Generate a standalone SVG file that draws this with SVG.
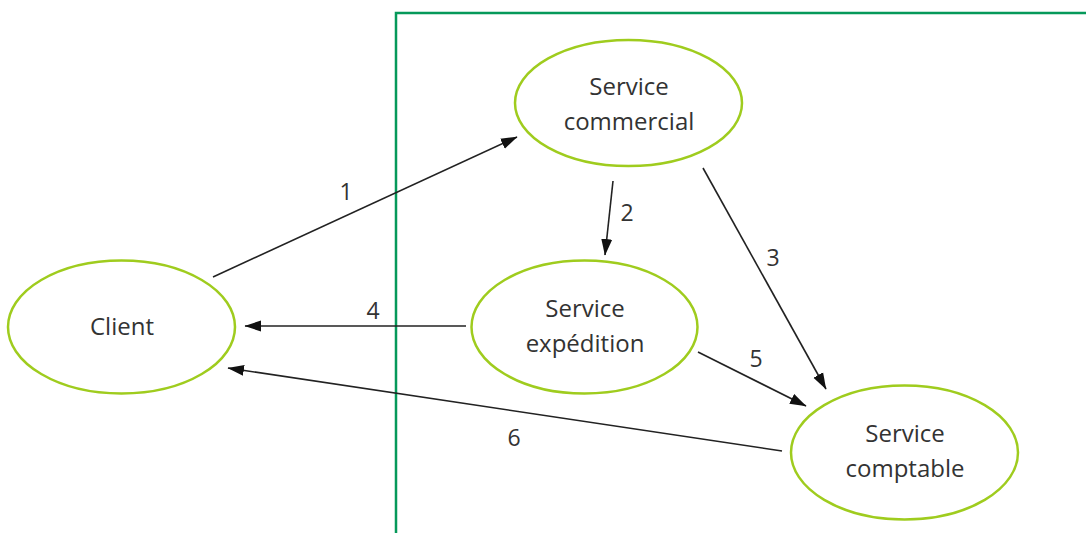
<svg xmlns="http://www.w3.org/2000/svg" width="1086" height="533" viewBox="0 0 1086 533">
<style>
.node{fill:#fff;stroke:#9fcc1e;stroke-width:2.5}
.lbl{font-family:"Open Sans","Liberation Sans",sans-serif;font-size:24px;fill:#333;text-anchor:middle}
.num{font-family:"Open Sans","Liberation Sans",sans-serif;font-size:23px;fill:#333;text-anchor:middle}
.edge{stroke:#222;stroke-width:1.6;fill:none;marker-end:url(#ah)}
</style>
<defs>
<marker id="ah" markerUnits="userSpaceOnUse" markerWidth="17" markerHeight="12" refX="16" refY="6" orient="auto" viewBox="0 0 17 12">
<path d="M0,0.5 L16.5,6 L0,11.5 z" fill="#111"/>
</marker>
</defs>
<rect width="1086" height="533" fill="#fff"/>
<g id="boundary">
<path d="M396,540 V13 H1095" fill="none" stroke="#06995a" stroke-width="2.5"/>
</g>
<g id="connectors">
<line class="edge" x1="213" y1="277" x2="517" y2="137"/>
<text class="num" x="346" y="200">1</text>
<line class="edge" x1="613" y1="181" x2="605" y2="255"/>
<text class="num" x="627" y="221">2</text>
<line class="edge" x1="703" y1="168" x2="826" y2="389"/>
<text class="num" x="773" y="266">3</text>
<line class="edge" x1="466" y1="326" x2="245" y2="326"/>
<text class="num" x="373" y="319">4</text>
<line class="edge" x1="698" y1="352" x2="806" y2="406"/>
<text class="num" x="756" y="367">5</text>
<line class="edge" x1="782" y1="451" x2="228" y2="368"/>
<text class="num" x="514" y="446">6</text>
</g>
<g id="client">
<ellipse class="node" cx="121.5" cy="327" rx="113.5" ry="66.5"/>
<text class="lbl" x="122" y="335">Client</text>
</g>
<g id="commercial">
<ellipse class="node" cx="628.5" cy="103" rx="113.5" ry="63"/>
<text class="lbl" x="629" y="95">Service</text>
<text class="lbl" x="629" y="130">commercial</text>
</g>
<g id="expedition">
<ellipse class="node" cx="584.5" cy="327" rx="113" ry="66.5"/>
<text class="lbl" x="585" y="317">Service</text>
<text class="lbl" x="585" y="352">expédition</text>
</g>
<g id="comptable">
<ellipse class="node" cx="904.5" cy="452.5" rx="113.5" ry="67"/>
<text class="lbl" x="905" y="442">Service</text>
<text class="lbl" x="905" y="477">comptable</text>
</g>
</svg>
